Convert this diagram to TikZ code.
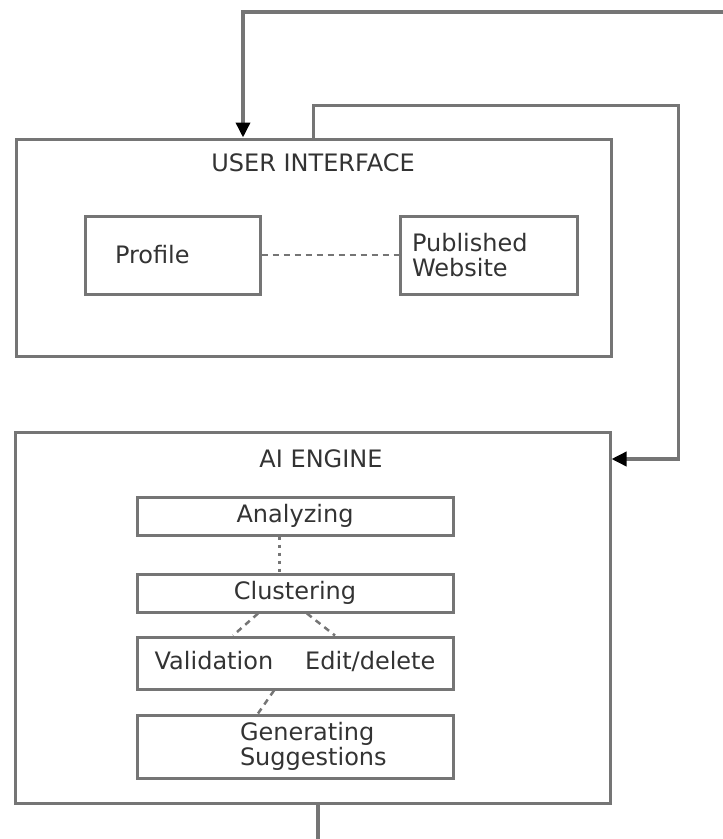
\documentclass[tikz,border=0pt]{standalone}
\usepackage{fontspec}
\setmainfont{DejaVu Sans}
\usetikzlibrary{arrows.meta}

\definecolor{linegray}{HTML}{757575}
\definecolor{textgray}{HTML}{333333}

\tikzset{
  box/.style={draw=linegray, line width=3pt, rectangle, inner sep=0pt},
  lbl/.style={text=textgray, font=\fontsize{24}{24.5}\selectfont},
  link/.style={draw=linegray, line width=3.5pt},
  flowtip/.style={-{Triangle[length=15pt,width=14pt,color=black]}},
  dash link/.style={draw=linegray, line width=2.5pt, dash pattern=on 6pt off 5pt},
  dot link/.style={draw=linegray, line width=3pt, dash pattern=on 3pt off 5pt},
}

\begin{document}
\begin{tikzpicture}[x=1pt, y=-1pt]
  \useasboundingbox (0,0) rectangle (723,839);
  % User interface
  \node[box, minimum width=595pt, minimum height=217pt] (ui) at (313.5,247.5) {};
  \node[lbl] (uiTitle) at (313,163) {USER INTERFACE};
  \node[box, lbl, minimum width=175pt, minimum height=78pt, text width=115pt, align=left] (profile) at (172.5,255) {Profile};
  \node[box, lbl, minimum width=177pt, minimum height=78pt, text width=153pt, align=left] (pub) at (488.5,255) {Published\\Website};
  % AI engine
  \node[box, minimum width=595pt, minimum height=371pt] (ai) at (312.5,617.5) {};
  \node[lbl] (aiTitle) at (321,459) {AI ENGINE};
  \node[box, lbl, minimum width=316pt, minimum height=38pt] (ana) at (295,516) {Analyzing};
  \node[box, lbl, minimum width=316pt, minimum height=38pt] (clu) at (295,593) {Clustering};
  \node[box, lbl, minimum width=316pt, minimum height=52pt] (val) at (295,663) {\raisebox{5pt}{Validation\hspace{32pt}Edit/delete}};
  \node[box, lbl, minimum width=316pt, minimum height=63pt, text width=290pt, align=left] (gen) at (295,746.5)
    {\hspace*{90pt}Generating\\\hspace*{90pt}Suggestions};
  % free ends at the page edge
  \coordinate (topIn) at (723,12);
  \coordinate (botOut) at (318,839);
  % Draw the links
  \draw[dash link] (profile) -- (pub);
  \draw[dot link] ([xshift=-16pt]ana.south) -- ([xshift=-16pt]clu.north);
  \draw[dash link] ([xshift=-37pt]clu.south) -- ([xshift=-62pt]val.north);
  \draw[dash link] ([xshift=12pt]clu.south) -- ([xshift=40pt]val.north);
  \draw[dash link] ([xshift=-21pt]val.south) -- ([xshift=-37pt]gen.north);
  \draw[link, flowtip] (topIn) -| ([xshift=-70.5pt]ui.north);
  \draw[link, flowtip] (ui.north) -- ++(0,-32) -| ([xshift=67pt, yshift=158.5pt]ai.east) -- ([yshift=158.5pt]ai.east);
  \draw[link] ([xshift=5.5pt]ai.south) -- (botOut);
\end{tikzpicture}
\end{document}
